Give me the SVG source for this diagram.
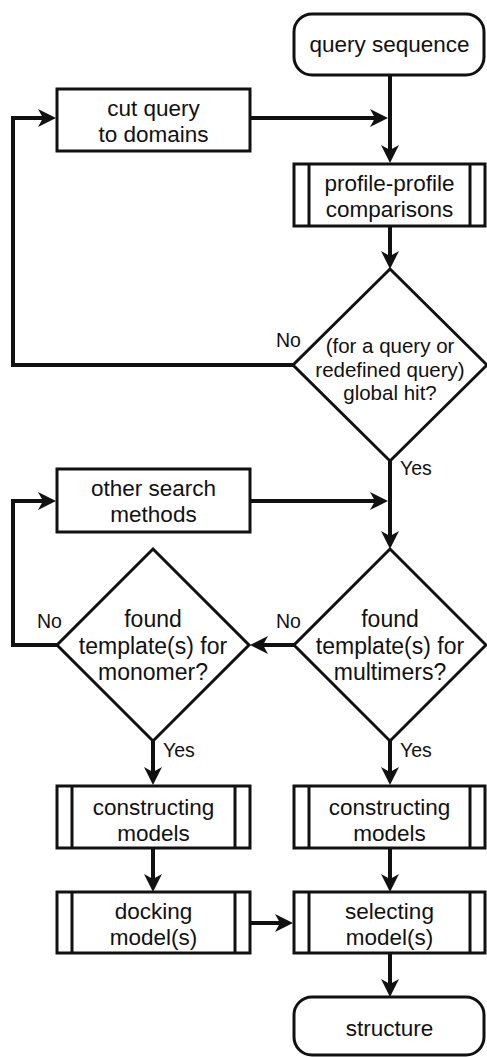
<svg xmlns="http://www.w3.org/2000/svg" width="487" height="1057" viewBox="0 0 487 1057">
<style>
.box{fill:#fff;stroke:#111;stroke-width:3}
.div{stroke:#111;stroke-width:3}
.con{fill:none;stroke:#111;stroke-width:4;stroke-linejoin:miter}
text{font-family:"Liberation Sans",Arial,sans-serif;fill:#111;text-anchor:middle}
.t{font-size:22.5px}
.d1{font-size:20.5px}
.d{font-size:23px}
.lbl{font-size:19.5px;text-anchor:start}
</style>
<defs>
<marker id="ah" markerUnits="userSpaceOnUse" markerWidth="20" markerHeight="20" viewBox="0 -10 20 20" refX="13" refY="0" orient="auto">
<path d="M0,-9 L18,0 L0,9 L5,0 Z" fill="#111"/>
</marker>
</defs>
<rect width="487" height="1057" fill="#fff"/>
<g id="connectors">
<path class="con" d="M390,76 V158" marker-end="url(#ah)"/>
<path class="con" d="M251,118 H383" marker-end="url(#ah)"/>
<path class="con" d="M390,227 V264" marker-end="url(#ah)"/>
<path class="con" d="M293,365 H13 V118 H51" marker-end="url(#ah)"/>
<path class="con" d="M390,461 V544" marker-end="url(#ah)"/>
<path class="con" d="M251,501 H383" marker-end="url(#ah)"/>
<path class="con" d="M294,645 H255" marker-end="url(#ah)"/>
<path class="con" d="M57,645 H13 V501 H51" marker-end="url(#ah)"/>
<path class="con" d="M153,741 V780" marker-end="url(#ah)"/>
<path class="con" d="M390,741 V780" marker-end="url(#ah)"/>
<path class="con" d="M153,849 V887" marker-end="url(#ah)"/>
<path class="con" d="M390,849 V887" marker-end="url(#ah)"/>
<path class="con" d="M251,923 H288" marker-end="url(#ah)"/>
<path class="con" d="M390,954 V992" marker-end="url(#ah)"/>
<text class="lbl" x="276" y="347">No</text>
<text class="lbl" x="400" y="475">Yes</text>
<text class="lbl" x="276" y="628">No</text>
<text class="lbl" x="37" y="628">No</text>
<text class="lbl" x="163" y="757">Yes</text>
<text class="lbl" x="400" y="757">Yes</text>
</g>
<g id="query-sequence">
<rect class="box" x="294" y="14" width="190" height="61" rx="18"/>
<text class="t" x="389.5" y="52">query sequence</text>
</g>
<g id="cut-query">
<rect class="box" x="57" y="89" width="193" height="62"/>
<text class="t" x="153.5" y="116">cut query<tspan x="153.5" dy="26">to domains</tspan></text>
</g>
<g id="profile-profile">
<rect class="box" x="294" y="164" width="191" height="62"/>
<line class="div" x1="309" y1="164" x2="309" y2="226"/>
<line class="div" x1="470" y1="164" x2="470" y2="226"/>
<text class="t" x="389.5" y="191">profile-profile<tspan x="389.5" dy="26">comparisons</tspan></text>
</g>
<g id="global-hit">
<polygon class="box" points="390,269 487,365 390,461 293,365"/>
<text class="d1" x="390" y="353">(for a query or<tspan x="390" dy="23.5">redefined query)</tspan><tspan x="390" dy="23.5">global hit?</tspan></text>
</g>
<g id="other-search">
<rect class="box" x="57" y="469" width="193" height="63"/>
<text class="t" x="153.5" y="496">other search<tspan x="153.5" dy="26">methods</tspan></text>
</g>
<g id="multimers">
<polygon class="box" points="390,549 486,645 390,741 294,645"/>
<text class="d" x="390" y="627">found<tspan x="390" dy="26.5">template(s) for</tspan><tspan x="390" dy="26.5">multimers?</tspan></text>
</g>
<g id="monomer">
<polygon class="box" points="153,549 249,645 153,741 57,645"/>
<text class="d" x="153" y="627">found<tspan x="153" dy="26.5">template(s) for</tspan><tspan x="153" dy="26.5">monomer?</tspan></text>
</g>
<g id="constructing-left">
<rect class="box" x="57" y="786" width="193" height="62"/>
<line class="div" x1="72" y1="786" x2="72" y2="848"/>
<line class="div" x1="235" y1="786" x2="235" y2="848"/>
<text class="t" x="153.5" y="815">constructing<tspan x="153.5" dy="26">models</tspan></text>
</g>
<g id="constructing-right">
<rect class="box" x="294" y="786" width="191" height="62"/>
<line class="div" x1="309" y1="786" x2="309" y2="848"/>
<line class="div" x1="470" y1="786" x2="470" y2="848"/>
<text class="t" x="389.5" y="815">constructing<tspan x="389.5" dy="26">models</tspan></text>
</g>
<g id="docking">
<rect class="box" x="57" y="892" width="193" height="61"/>
<line class="div" x1="72" y1="892" x2="72" y2="953"/>
<line class="div" x1="235" y1="892" x2="235" y2="953"/>
<text class="t" x="153.5" y="919">docking<tspan x="153.5" dy="26">model(s)</tspan></text>
</g>
<g id="selecting">
<rect class="box" x="294" y="892" width="191" height="61"/>
<line class="div" x1="309" y1="892" x2="309" y2="953"/>
<line class="div" x1="470" y1="892" x2="470" y2="953"/>
<text class="t" x="389.5" y="919">selecting<tspan x="389.5" dy="26">model(s)</tspan></text>
</g>
<g id="structure">
<rect class="box" x="294" y="997" width="190" height="58" rx="18"/>
<text class="t" x="389.5" y="1036">structure</text>
</g>
</svg>
